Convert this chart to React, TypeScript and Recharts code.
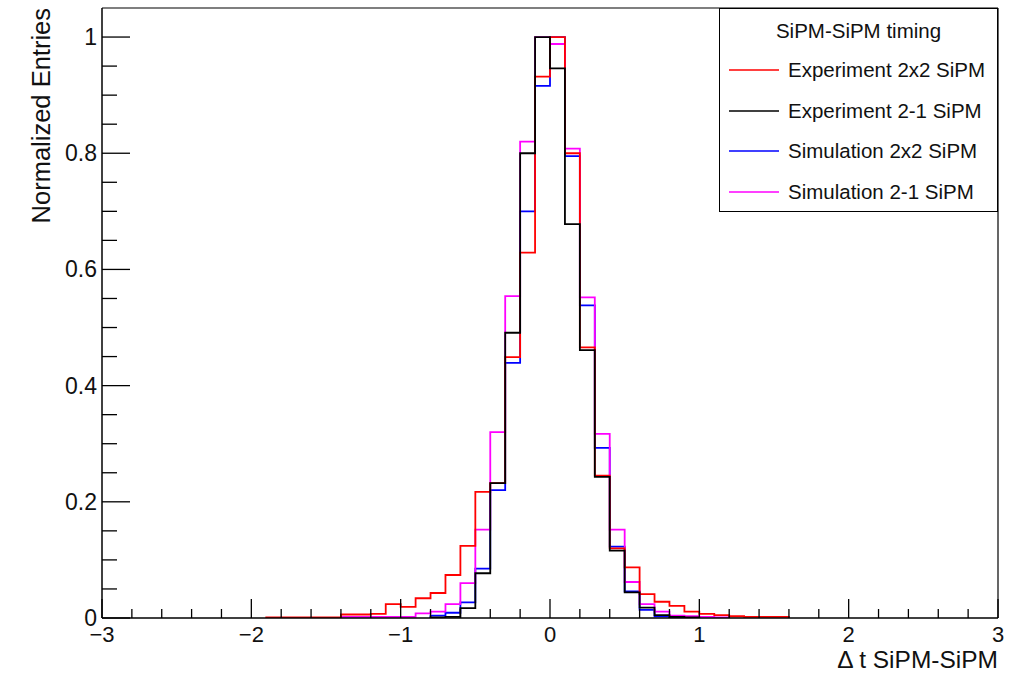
import { ComposedChart, Line, XAxis, YAxis, Legend } from "recharts";

const FONT = "'Liberation Sans', Arial, Helvetica, sans-serif";
const BIN_WIDTH = 0.1;

// bin contents, first bin low edge given by *Start
const exp2x2Start = -1.9;
const exp2x2 = [
  0.001, 0.001, 0.001, 0.001, 0.001, 0.006, 0.006, 0.007, 0.024, 0.019, 0.034, 0.043, 0.074, 0.124,
  0.217, 0.232, 0.449, 0.629, 0.932, 1.0, 0.8, 0.466, 0.245, 0.12, 0.087, 0.041, 0.028, 0.021, 0.011,
  0.007, 0.005, 0.003, 0.002, 0.002, 0.002,
];

const exp21Start = -0.8;
const exp21 = [
  0.001, 0.002, 0.017, 0.077, 0.232, 0.491, 0.8, 1.0, 0.946, 0.678, 0.461, 0.243, 0.116, 0.044, 0.018,
  0.005, 0.002, 0.001,
];

const sim2x2Start = -0.8;
const sim2x2 = [
  0.004, 0.009, 0.027, 0.085, 0.22, 0.439, 0.7, 0.916, 1.0, 0.795, 0.538, 0.293, 0.123, 0.046, 0.014,
  0.003, 0.001,
];

const sim21Start = -1.4;
const sim21 = [
  0.002, 0.002, 0.002, 0.002, 0.002, 0.008, 0.011, 0.024, 0.06, 0.152, 0.32, 0.554, 0.82, 1.0, 0.988,
  0.808, 0.552, 0.317, 0.152, 0.062, 0.024, 0.011, 0.004, 0.003, 0.002, 0.001,
];

const xMajorTicks = [-3, -2, -1, 0, 1, 2, 3];
const yMajorTicks = [0, 0.2, 0.4, 0.6, 0.8, 1];
const yLabels = ["0", "0.2", "0.4", "0.6", "0.8", "1"];

const xTicks: number[] = [];
for (let i = -15; i <= 15; i++) xTicks.push(Math.round(i * 2) / 10);
const yTicks: number[] = [];
for (let i = 0; i <= 20; i++) yTicks.push(Math.round(i * 5) / 100);

const round = (v: number) => Math.round(v * 1000) / 1000;

function toSteps(start: number, values: number[]) {
  const pts = [{ x: start, y: 0 }];
  values.forEach((v, i) => pts.push({ x: round(start + i * BIN_WIDTH), y: v }));
  pts.push({ x: round(start + values.length * BIN_WIDTH), y: 0 });
  return pts;
}

// legend order
const SERIES = [
  { name: "Experiment 2x2 SiPM", color: "#ff0000", start: exp2x2Start, values: exp2x2 },
  { name: "Experiment 2-1 SiPM", color: "#000000", start: exp21Start, values: exp21 },
  { name: "Simulation 2x2 SiPM", color: "#0000ff", start: sim2x2Start, values: sim2x2 },
  { name: "Simulation 2-1 SiPM", color: "#ff00ff", start: sim21Start, values: sim21 },
];
// drawing order (last one on top)
const DRAW_ORDER = [2, 3, 0, 1];

// plot box: x 102..998, y 8..618
const X_AXIS_H = 30;
const Y_AXIS_W = 40;

function XTick({ x, payload }: any) {
  const v = payload.value;
  const y = 673 - 55; // bottom of plot box
  const major = xMajorTicks.some((m) => Math.abs(m - v) < 1e-6);
  const label = v < 0 ? "\u2212" + Math.abs(v) : String(v);
  return (
    <g>
      <line x1={x} x2={x} y1={y} y2={y - (major ? 19 : 9)} stroke="#000" strokeWidth={1.3} />
      {major && (
        <text x={x} y={y + 24} textAnchor="middle" fontSize={22} fontFamily={FONT} fill="#111">
          {label}
        </text>
      )}
    </g>
  );
}

function YTick({ y, payload }: any) {
  const v = payload.value;
  const x = 102; // left of plot box
  const idx = yMajorTicks.findIndex((m) => Math.abs(m - v) < 1e-6);
  const major = idx >= 0;
  return (
    <g>
      <line x1={x} x2={x + (major ? 28 : 15)} y1={y} y2={y} stroke="#000" strokeWidth={1.3} />
      {major && (
        <text x={x - 5} y={y + 8} textAnchor="end" fontSize={23} fontFamily={FONT} fill="#111">
          {yLabels[idx]}
        </text>
      )}
    </g>
  );
}

function LegendBox() {
  return (
    <div
      style={{
        position: "relative",
        width: 279,
        height: 204,
        boxSizing: "border-box",
        border: "1px solid #000",
        background: "#fff",
        fontFamily: FONT,
        color: "#111",
      }}
    >
      <div style={{ position: "absolute", top: 10, left: 0, width: "100%", textAlign: "center", fontSize: 20.5, lineHeight: "24px" }}>
        SiPM-SiPM timing
      </div>
      {SERIES.map((s, i) => (
        <div key={s.name} style={{ position: "absolute", left: 0, top: 48 + i * 40.5, height: 26, width: "100%" }}>
          <svg width={60} height={26} style={{ position: "absolute", left: 0, top: 0 }}>
            <line x1={9} x2={59} y1={13} y2={13} stroke={s.color} strokeWidth={1.5} />
          </svg>
          <span style={{ position: "absolute", left: 68, top: 0, fontSize: 20.5, lineHeight: "25px", whiteSpace: "nowrap" }}>
            {s.name}
          </span>
        </div>
      ))}
    </div>
  );
}

export default function App() {
  return (
    <div style={{ position: "absolute", left: 0, top: 0, width: 1025, height: 673, background: "#fff" }}>
      <ComposedChart width={1025} height={673} margin={{ top: 7, right: 26, bottom: 55 - X_AXIS_H, left: 102 - Y_AXIS_W }}>
        <XAxis
          dataKey="x"
          type="number"
          domain={[-3, 3]}
          allowDataOverflow
          ticks={xTicks}
          interval={0}
          height={X_AXIS_H}
          tickSize={0}
          tickMargin={0}
          tickLine={false}
          axisLine={{ stroke: "#000", strokeWidth: 1.5 }}
          tick={(p: any) => <XTick {...p} />}
        />
        <XAxis
          xAxisId="top"
          orientation="top"
          type="number"
          domain={[-3, 3]}
          height={1}
          tick={false}
          tickLine={false}
          axisLine={{ stroke: "#000", strokeWidth: 1.2 }}
        />
        <YAxis
          type="number"
          domain={[0, 1.05]}
          allowDataOverflow
          ticks={yTicks}
          interval={0}
          width={Y_AXIS_W}
          tickSize={0}
          tickMargin={0}
          tickLine={false}
          axisLine={{ stroke: "#000", strokeWidth: 1.5 }}
          tick={(p: any) => <YTick {...p} />}
        />
        <YAxis
          yAxisId="right"
          orientation="right"
          type="number"
          domain={[0, 1.05]}
          width={1}
          tick={false}
          tickLine={false}
          axisLine={{ stroke: "#000", strokeWidth: 1.2 }}
        />
        {DRAW_ORDER.map((k) => {
          const s = SERIES[k];
          return (
            <Line
              key={s.name}
              name={s.name}
              data={toSteps(s.start, s.values)}
              dataKey="y"
              type="stepAfter"
              stroke={s.color}
              strokeWidth={1.8}
              dot={false}
              activeDot={false}
              isAnimationActive={false}
            />
          );
        })}
        <Legend
          layout="horizontal"
          align="center"
          verticalAlign="middle"
          wrapperStyle={{ position: "absolute", top: 8, left: 719, width: 279, height: 204 }}
          content={() => <LegendBox />}
        />
        <text x={998} y={668} textAnchor="end" fontSize={24.5} fontFamily={FONT} fill="#111">
          {"\u0394 t SiPM-SiPM"}
        </text>
        <text x={50} y={8} transform="rotate(-90 50 8)" textAnchor="end" fontSize={25.5} fontFamily={FONT} fill="#111">
          Normalized Entries
        </text>
      </ComposedChart>
    </div>
  );
}
